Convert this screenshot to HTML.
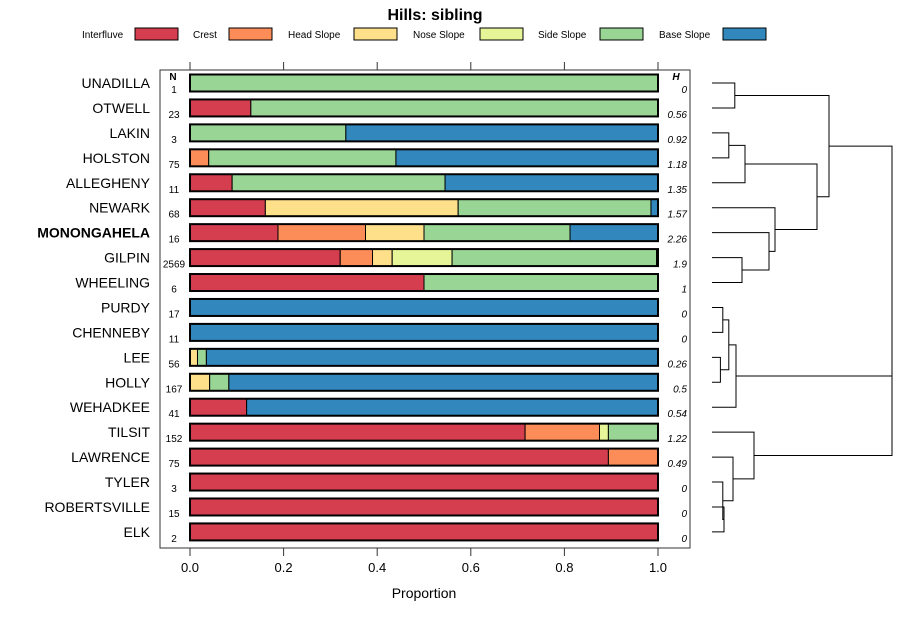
<!DOCTYPE html>
<html><head><meta charset="utf-8"><style>
body{margin:0;background:#fff;}
svg{font-family:"Liberation Sans",sans-serif;}
</style></head><body>
<svg id="chart" width="900" height="620" xmlns="http://www.w3.org/2000/svg">
<text x="435" y="20" text-anchor="middle" font-size="16" font-weight="bold">Hills: sibling</text>
<g id="legend"></g>
<rect x="160" y="70" width="530" height="478" fill="none" stroke="#333" stroke-width="1"/>
<text x="173" y="80" text-anchor="middle" font-size="10" font-weight="bold">N</text>
<text x="676" y="80" text-anchor="middle" font-size="10" font-weight="bold" font-style="italic">H</text>
<g id="bars"></g><g id="labels"></g><g id="axes"></g><g id="dendro"></g>
<text x="424" y="598" text-anchor="middle" font-size="14">Proportion</text>
</svg>
<script>
const categories=["Interfluve","Crest","Head Slope","Nose Slope","Side Slope","Base Slope"];
const colors=["#D53E4F","#FC8D59","#FEE08B","#E6F598","#99D594","#3288BD"];
const series=["UNADILLA","OTWELL","LAKIN","HOLSTON","ALLEGHENY","NEWARK","MONONGAHELA","GILPIN","WHEELING","PURDY","CHENNEBY","LEE","HOLLY","WEHADKEE","TILSIT","LAWRENCE","TYLER","ROBERTSVILLE","ELK"];
const nValues=[1,23,3,75,11,68,16,2569,6,17,11,56,167,41,152,75,3,15,2];
const hValues=["0","0.56","0.92","1.18","1.35","1.57","2.26","1.9","1","0","0","0.26","0.5","0.54","1.22","0.49","0","0","0"];
const proportions=[
[0,0,0,0,1,0],
[0.13,0,0,0,0.87,0],
[0,0,0,0,0.333,0.667],
[0,0.04,0,0,0.40,0.56],
[0.09,0,0,0,0.455,0.455],
[0.161,0,0.412,0,0.412,0.015],
[0.188,0.187,0.125,0,0.312,0.188],
[0.321,0.069,0.042,0.128,0.437,0.003],
[0.5,0,0,0,0.5,0],
[0,0,0,0,0,1],
[0,0,0,0,0,1],
[0,0,0.016,0,0.019,0.965],
[0,0,0.042,0,0.041,0.917],
[0.121,0,0,0,0,0.879],
[0.716,0.159,0,0.019,0.106,0],
[0.894,0.106,0,0,0,0],
[1,0,0,0,0,0],
[1,0,0,0,0,0],
[1,0,0,0,0,0]];
const xTicks=[0,0.2,0.4,0.6,0.8,1.0];
const xTickLabels=["0.0","0.2","0.4","0.6","0.8","1.0"];
// dendrogram merges: [childA, childB, height]; leaves 0..18, internal nodes 19+
const merges=[
[0,1,0.38],[2,3,0.28],[20,4,0.55],[7,8,0.50],[6,22,0.95],[5,23,1.05],[21,24,1.75],[19,25,1.95],
[9,10,0.18],[11,12,0.14],[27,28,0.28],[29,13,0.40],
[17,18,0.20],[16,31,0.18],[15,32,0.35],[14,33,0.70],
[30,34,3.0],[26,35,3.0]];
const NS="http://www.w3.org/2000/svg";
function mk(t,a,p){const e=document.createElementNS(NS,t);for(const k in a)e.setAttribute(k,a[k]);p.appendChild(e);return e;}
const x=v=>190+v*468;
const y=i=>83+i*24.94;
const dx=h=>712+h*60;
const lg=document.getElementById('legend');
const lgX=[82,193,288,413,538,659];
const rectX=[135,229,354,480,600,723];
categories.forEach((c,i)=>{
 const t=mk('text',{x:lgX[i],y:38,'font-size':10},lg);t.textContent=c;
 
 
 const r=mk('rect',{x:rectX[i],y:28,width:43,height:12,fill:colors[i],stroke:'#000','stroke-width':1},lg);
 
 
});
const bg=document.getElementById('bars'),lb=document.getElementById('labels');
series.forEach((s,i)=>{
 let acc=0;const cy=y(i);
 proportions[i].forEach((p,j)=>{
  if(p<=0)return;
  const r=mk('rect',{x:x(acc),y:cy-8.5,width:x(acc+p)-x(acc),height:17,fill:colors[j],stroke:'#000','stroke-width':1},bg);
  
  
  acc+=p;
 });
 const o=mk('rect',{x:x(0),y:cy-8.5,width:x(1)-x(0),height:17,fill:'none',stroke:'#000','stroke-width':2},bg);
 
 
 const t=mk('text',{x:150,y:cy+5,'text-anchor':'end','font-size':14,'font-weight':s==='MONONGAHELA'?'bold':'normal'},lb);t.textContent=s;
 
 
 const n=mk('text',{x:174,y:cy+10,'text-anchor':'middle','font-size':10},lb);n.textContent=nValues[i];
 
 
 const h=mk('text',{x:687,y:cy+10,'text-anchor':'end','font-size':10,'font-style':'italic'},lb);h.textContent=hValues[i];
 
 
});
const ax=document.getElementById('axes');
xTicks.forEach((v,i)=>{
 mk('line',{x1:x(v),x2:x(v),y1:62,y2:70,stroke:'#333'},ax);
 mk('line',{x1:x(v),x2:x(v),y1:548,y2:556,stroke:'#333'},ax);
 const t=mk('text',{x:x(v),y:572,'text-anchor':'middle','font-size':13},ax);t.textContent=xTickLabels[i];
 
 
});
const dg=document.getElementById('dendro');
const pos={};
series.forEach((s,i)=>pos[i]={x:712,y:y(i)});
merges.forEach((m,k)=>{
 const a=pos[m[0]],b=pos[m[1]],hx=dx(m[2]);
 const p=mk('path',{d:`M${a.x},${a.y}H${hx}V${b.y}H${b.x}`,fill:'none',stroke:'#000','stroke-width':1},dg);
 
 
 pos[19+k]={x:hx,y:(a.y+b.y)/2};
});
</script>
</body></html>
